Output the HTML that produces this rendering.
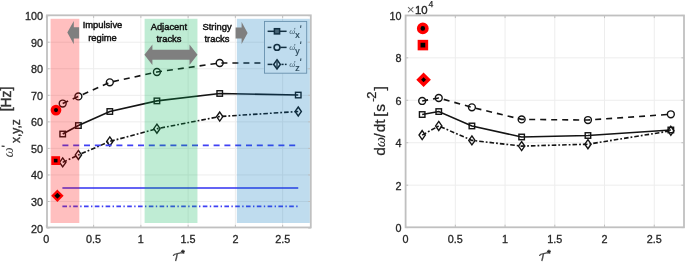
<!DOCTYPE html>
<html><head><meta charset="utf-8"><style>
html,body{margin:0;padding:0;background:#fff;}
body{width:685px;height:262px;overflow:hidden;font-family:"Liberation Sans", sans-serif;}
svg{display:block;filter:blur(0.55px);}
</style></head><body>
<svg width="685" height="262" viewBox="0 0 685 262" font-family='"Liberation Sans", sans-serif' font-size="10.8" fill="#262626">
<rect width="685" height="262" fill="#fff"/>
<line x1="93.61" y1="15.65" x2="93.61" y2="228.05" stroke="#ededed" stroke-width="1"/>
<line x1="140.87" y1="15.65" x2="140.87" y2="228.05" stroke="#ededed" stroke-width="1"/>
<line x1="188.13" y1="15.65" x2="188.13" y2="228.05" stroke="#ededed" stroke-width="1"/>
<line x1="235.39" y1="15.65" x2="235.39" y2="228.05" stroke="#ededed" stroke-width="1"/>
<line x1="282.64" y1="15.65" x2="282.64" y2="228.05" stroke="#ededed" stroke-width="1"/>
<line x1="46.35" y1="201.50" x2="311.00" y2="201.50" stroke="#ededed" stroke-width="1"/>
<line x1="46.35" y1="174.95" x2="311.00" y2="174.95" stroke="#ededed" stroke-width="1"/>
<line x1="46.35" y1="148.40" x2="311.00" y2="148.40" stroke="#ededed" stroke-width="1"/>
<line x1="46.35" y1="121.85" x2="311.00" y2="121.85" stroke="#ededed" stroke-width="1"/>
<line x1="46.35" y1="95.30" x2="311.00" y2="95.30" stroke="#ededed" stroke-width="1"/>
<line x1="46.35" y1="68.75" x2="311.00" y2="68.75" stroke="#ededed" stroke-width="1"/>
<line x1="46.35" y1="42.20" x2="311.00" y2="42.20" stroke="#ededed" stroke-width="1"/>
<polyline points="62.70,134.02 78.40,125.54 109.81,111.50 156.92,100.89 219.73,93.48 298.24,95.06" fill="none" stroke="#141414" stroke-width="1.6"/>
<rect x="59.95" y="131.27" width="5.50" height="5.50" fill="none" stroke="#141414" stroke-width="1.4"/>
<rect x="75.65" y="122.79" width="5.50" height="5.50" fill="none" stroke="#141414" stroke-width="1.4"/>
<rect x="107.06" y="108.75" width="5.50" height="5.50" fill="none" stroke="#141414" stroke-width="1.4"/>
<rect x="154.17" y="98.14" width="5.50" height="5.50" fill="none" stroke="#141414" stroke-width="1.4"/>
<rect x="216.98" y="90.73" width="5.50" height="5.50" fill="none" stroke="#141414" stroke-width="1.4"/>
<rect x="295.49" y="92.31" width="5.50" height="5.50" fill="none" stroke="#141414" stroke-width="1.4"/>
<polyline points="62.70,103.55 78.40,96.39 109.81,82.34 156.92,72.01 219.73,63.00 298.24,63.00" fill="none" stroke="#141414" stroke-width="1.6" stroke-dasharray="6,5"/>
<circle cx="62.70" cy="103.55" r="3.45" fill="none" stroke="#141414" stroke-width="1.4"/>
<circle cx="78.40" cy="96.39" r="3.45" fill="none" stroke="#141414" stroke-width="1.4"/>
<circle cx="109.81" cy="82.34" r="3.45" fill="none" stroke="#141414" stroke-width="1.4"/>
<circle cx="156.92" cy="72.01" r="3.45" fill="none" stroke="#141414" stroke-width="1.4"/>
<circle cx="219.73" cy="63.00" r="3.45" fill="none" stroke="#141414" stroke-width="1.4"/>
<circle cx="298.24" cy="63.00" r="3.45" fill="none" stroke="#141414" stroke-width="1.4"/>
<polyline points="62.70,162.38 78.40,154.96 109.81,141.44 156.92,128.72 219.73,116.53 298.24,111.50" fill="none" stroke="#141414" stroke-width="1.6" stroke-dasharray="4.6,2.0,1.8,2.0"/>
<polygon points="62.70,157.88 65.85,162.38 62.70,166.88 59.55,162.38" fill="none" stroke="#141414" stroke-width="1.4"/>
<polygon points="78.40,150.46 81.55,154.96 78.40,159.46 75.25,154.96" fill="none" stroke="#141414" stroke-width="1.4"/>
<polygon points="109.81,136.94 112.96,141.44 109.81,145.94 106.66,141.44" fill="none" stroke="#141414" stroke-width="1.4"/>
<polygon points="156.92,124.22 160.07,128.72 156.92,133.22 153.77,128.72" fill="none" stroke="#141414" stroke-width="1.4"/>
<polygon points="219.73,112.03 222.88,116.53 219.73,121.03 216.58,116.53" fill="none" stroke="#141414" stroke-width="1.4"/>
<polygon points="298.24,107.00 301.39,111.50 298.24,116.00 295.09,111.50" fill="none" stroke="#141414" stroke-width="1.4"/>
<line x1="62.40" y1="188.08" x2="298.24" y2="188.08" stroke="#3030f0" stroke-width="1.5"/>
<line x1="62.40" y1="145.42" x2="298.24" y2="145.42" stroke="#4040f4" stroke-width="1.6" stroke-dasharray="6,4.8"/>
<line x1="62.40" y1="206.37" x2="298.24" y2="206.37" stroke="#4040f4" stroke-width="1.6" stroke-dasharray="4.6,2.4,1.4,2.4"/>
<rect x="264.5" y="21.4" width="42.2" height="51.8" fill="#fff" stroke="#8a9aa8" stroke-width="0.9"/>
<line x1="267.6" y1="31.3" x2="286.6" y2="31.3" stroke="#181818" stroke-width="1.5"/>
<rect x="274.4" y="28.7" width="5.2" height="5.2" fill="#606060" stroke="#181818" stroke-width="1.5"/>
<text x="289.2" y="33.70" font-size="8.5" fill="#555" font-family='"Liberation Serif", serif' font-style="italic">ω</text>
<line x1="294.9" y1="27.90" x2="294.6" y2="29.50" stroke="#555" stroke-width="0.8"/>
<text x="295.2" y="37.50" font-size="8.8" fill="#333" stroke="#333" stroke-width="0.2">x</text>
<line x1="300.9" y1="25.30" x2="300.6" y2="27.90" stroke="#333" stroke-width="1"/>
<line x1="267.6" y1="47.4" x2="271.4" y2="47.4" stroke="#181818" stroke-width="1.5"/>
<line x1="280.2" y1="47.4" x2="286.6" y2="47.4" stroke="#181818" stroke-width="1.5"/>
<circle cx="277.0" cy="47.4" r="2.9" fill="none" stroke="#181818" stroke-width="1.6"/>
<text x="289.2" y="49.80" font-size="8.5" fill="#555" font-family='"Liberation Serif", serif' font-style="italic">ω</text>
<line x1="294.9" y1="44.00" x2="294.6" y2="45.60" stroke="#555" stroke-width="0.8"/>
<text x="295.2" y="53.60" font-size="8.8" fill="#333" stroke="#333" stroke-width="0.2">y</text>
<line x1="300.9" y1="41.40" x2="300.6" y2="44.00" stroke="#333" stroke-width="1"/>
<line x1="267.6" y1="64.4" x2="272.4" y2="64.4" stroke="#181818" stroke-width="1.5"/>
<line x1="277.0" y1="61.400000000000006" x2="277.0" y2="67.4" stroke="#181818" stroke-width="1.3"/>
<line x1="281.5" y1="64.4" x2="283.6" y2="64.4" stroke="#181818" stroke-width="1.5"/>
<line x1="284.9" y1="64.4" x2="286.6" y2="64.4" stroke="#181818" stroke-width="1.5"/>
<polygon points="277.00,59.80 280.30,64.40 277.00,69.00 273.70,64.40" fill="none" stroke="#181818" stroke-width="1.6"/>
<text x="289.2" y="66.80" font-size="8.5" fill="#555" font-family='"Liberation Serif", serif' font-style="italic">ω</text>
<line x1="294.9" y1="61.00" x2="294.6" y2="62.60" stroke="#555" stroke-width="0.8"/>
<text x="295.2" y="70.60" font-size="8.8" fill="#333" stroke="#333" stroke-width="0.2">z</text>
<line x1="300.9" y1="58.40" x2="300.6" y2="61.00" stroke="#333" stroke-width="1"/>
<rect x="50.58" y="18.8" width="28.74" height="204.20" fill="#ff0000" fill-opacity="0.25"/>
<rect x="144.61" y="18.8" width="52.85" height="204.20" fill="#00b353" fill-opacity="0.25"/>
<rect x="236.84" y="18.8" width="73.02" height="204.20" fill="#0072bd" fill-opacity="0.25"/>
<circle cx="56.00" cy="110.1" r="3.7" fill="#000" stroke="#f00" stroke-width="3.3"/>
<rect x="52.60" y="157.50" width="6.2" height="6.2" fill="#000" stroke="#f00" stroke-width="2.6"/>
<polygon points="57.40,191.20 62.00,195.80 57.40,200.40 52.80,195.80" fill="#000" stroke="#f00" stroke-width="2.3"/>
<rect x="47.00" y="15.30" width="263.80" height="212.15" fill="none" stroke="#c0c0c0" stroke-width="1.8"/>
<line x1="46.35" y1="227.45" x2="46.35" y2="224.85" stroke="#c0c0c0" stroke-width="1"/>
<line x1="46.35" y1="15.30" x2="46.35" y2="17.90" stroke="#c0c0c0" stroke-width="1"/>
<line x1="93.61" y1="227.45" x2="93.61" y2="224.85" stroke="#c0c0c0" stroke-width="1"/>
<line x1="93.61" y1="15.30" x2="93.61" y2="17.90" stroke="#c0c0c0" stroke-width="1"/>
<line x1="140.87" y1="227.45" x2="140.87" y2="224.85" stroke="#c0c0c0" stroke-width="1"/>
<line x1="140.87" y1="15.30" x2="140.87" y2="17.90" stroke="#c0c0c0" stroke-width="1"/>
<line x1="188.13" y1="227.45" x2="188.13" y2="224.85" stroke="#c0c0c0" stroke-width="1"/>
<line x1="188.13" y1="15.30" x2="188.13" y2="17.90" stroke="#c0c0c0" stroke-width="1"/>
<line x1="235.39" y1="227.45" x2="235.39" y2="224.85" stroke="#c0c0c0" stroke-width="1"/>
<line x1="235.39" y1="15.30" x2="235.39" y2="17.90" stroke="#c0c0c0" stroke-width="1"/>
<line x1="282.64" y1="227.45" x2="282.64" y2="224.85" stroke="#c0c0c0" stroke-width="1"/>
<line x1="282.64" y1="15.30" x2="282.64" y2="17.90" stroke="#c0c0c0" stroke-width="1"/>
<line x1="47.00" y1="228.05" x2="49.60" y2="228.05" stroke="#c0c0c0" stroke-width="1"/>
<line x1="310.80" y1="228.05" x2="308.20" y2="228.05" stroke="#c0c0c0" stroke-width="1"/>
<line x1="47.00" y1="201.50" x2="49.60" y2="201.50" stroke="#c0c0c0" stroke-width="1"/>
<line x1="310.80" y1="201.50" x2="308.20" y2="201.50" stroke="#c0c0c0" stroke-width="1"/>
<line x1="47.00" y1="174.95" x2="49.60" y2="174.95" stroke="#c0c0c0" stroke-width="1"/>
<line x1="310.80" y1="174.95" x2="308.20" y2="174.95" stroke="#c0c0c0" stroke-width="1"/>
<line x1="47.00" y1="148.40" x2="49.60" y2="148.40" stroke="#c0c0c0" stroke-width="1"/>
<line x1="310.80" y1="148.40" x2="308.20" y2="148.40" stroke="#c0c0c0" stroke-width="1"/>
<line x1="47.00" y1="121.85" x2="49.60" y2="121.85" stroke="#c0c0c0" stroke-width="1"/>
<line x1="310.80" y1="121.85" x2="308.20" y2="121.85" stroke="#c0c0c0" stroke-width="1"/>
<line x1="47.00" y1="95.30" x2="49.60" y2="95.30" stroke="#c0c0c0" stroke-width="1"/>
<line x1="310.80" y1="95.30" x2="308.20" y2="95.30" stroke="#c0c0c0" stroke-width="1"/>
<line x1="47.00" y1="68.75" x2="49.60" y2="68.75" stroke="#c0c0c0" stroke-width="1"/>
<line x1="310.80" y1="68.75" x2="308.20" y2="68.75" stroke="#c0c0c0" stroke-width="1"/>
<line x1="47.00" y1="42.20" x2="49.60" y2="42.20" stroke="#c0c0c0" stroke-width="1"/>
<line x1="310.80" y1="42.20" x2="308.20" y2="42.20" stroke="#c0c0c0" stroke-width="1"/>
<line x1="47.00" y1="15.65" x2="49.60" y2="15.65" stroke="#c0c0c0" stroke-width="1"/>
<line x1="310.80" y1="15.65" x2="308.20" y2="15.65" stroke="#c0c0c0" stroke-width="1"/>
<text x="46.35" y="242.9" text-anchor="middle" stroke="#262626" stroke-width="0.3">0</text>
<text x="93.61" y="242.9" text-anchor="middle" stroke="#262626" stroke-width="0.3">0.5</text>
<text x="140.87" y="242.9" text-anchor="middle" stroke="#262626" stroke-width="0.3">1</text>
<text x="188.13" y="242.9" text-anchor="middle" stroke="#262626" stroke-width="0.3">1.5</text>
<text x="235.39" y="242.9" text-anchor="middle" stroke="#262626" stroke-width="0.3">2</text>
<text x="282.64" y="242.9" text-anchor="middle" stroke="#262626" stroke-width="0.3">2.5</text>
<text x="43.00" y="232.55" text-anchor="end" stroke="#262626" stroke-width="0.3">20</text>
<text x="43.00" y="206.00" text-anchor="end" stroke="#262626" stroke-width="0.3">30</text>
<text x="43.00" y="179.45" text-anchor="end" stroke="#262626" stroke-width="0.3">40</text>
<text x="43.00" y="152.90" text-anchor="end" stroke="#262626" stroke-width="0.3">50</text>
<text x="43.00" y="126.35" text-anchor="end" stroke="#262626" stroke-width="0.3">60</text>
<text x="43.00" y="99.80" text-anchor="end" stroke="#262626" stroke-width="0.3">70</text>
<text x="43.00" y="73.25" text-anchor="end" stroke="#262626" stroke-width="0.3">80</text>
<text x="43.00" y="46.70" text-anchor="end" stroke="#262626" stroke-width="0.3">90</text>
<text x="43.00" y="20.15" text-anchor="end" stroke="#262626" stroke-width="0.3">100</text>
<polygon points="67.3,32.5 73.8,21.0 73.8,27.2 79.1,27.2 79.1,38.4 73.8,38.4 73.8,44.2" fill="#7f7f7f"/>
<polygon points="144.4,54.7 152.4,44.5 152.4,49.7 189.5,49.7 189.5,44.5 197.5,54.7 189.5,64.9 189.5,59.7 152.4,59.7 152.4,64.9" fill="#7f7f7f"/>
<polygon points="247.6,33.0 241.6,22.0 241.6,27.5 235.6,27.5 235.6,38.5 241.6,38.5 241.6,44.0" fill="#7f7f7f"/>
<g font-size="9.4" fill="#111" stroke="#111" stroke-width="0.45" text-anchor="middle">
<text x="102.5" y="28.4">Impulsive</text><text x="102.5" y="40.9">regime</text>
<text x="168.9" y="29.8">Adjacent</text><text x="169.0" y="41.5">tracks</text>
<text x="217.0" y="30.1">Stringy</text><text x="217.0" y="41.5">tracks</text>
</g>
<g transform="rotate(-90)" fill="#333">
<text x="-157.6" y="12.8" font-size="14.5" font-family='"Liberation Serif", serif' font-style="italic" fill="#444">ω</text>
<text x="-143.0" y="20.3" font-size="12" stroke="#333" stroke-width="0.35">x,y,z</text>
<text x="-111.3" y="11.4" font-size="13.8" stroke="#333" stroke-width="0.45">[Hz]</text>
</g>
<line x1="1.6" y1="146.2" x2="4.6" y2="146.4" stroke="#333" stroke-width="1.2"/>
<path d="M173.50,255.40 Q174.40,254.00 176.40,253.90 L180.60,252.80" fill="none" stroke="#505050" stroke-width="1.35" stroke-linecap="round"/>
<path d="M177.20,253.80 Q176.60,257.70 175.70,260.40" fill="none" stroke="#505050" stroke-width="1.45" stroke-linecap="round"/>
<text x="180.90" y="255.80" font-size="9.5" font-weight="bold" fill="#222" stroke="#222" stroke-width="0.4">*</text>
<line x1="455.33" y1="15.40" x2="455.33" y2="227.60" stroke="#ededed" stroke-width="1"/>
<line x1="505.06" y1="15.40" x2="505.06" y2="227.60" stroke="#ededed" stroke-width="1"/>
<line x1="554.80" y1="15.40" x2="554.80" y2="227.60" stroke="#ededed" stroke-width="1"/>
<line x1="604.53" y1="15.40" x2="604.53" y2="227.60" stroke="#ededed" stroke-width="1"/>
<line x1="654.26" y1="15.40" x2="654.26" y2="227.60" stroke="#ededed" stroke-width="1"/>
<line x1="405.60" y1="185.16" x2="684.10" y2="185.16" stroke="#ededed" stroke-width="1"/>
<line x1="405.60" y1="142.72" x2="684.10" y2="142.72" stroke="#ededed" stroke-width="1"/>
<line x1="405.60" y1="100.28" x2="684.10" y2="100.28" stroke="#ededed" stroke-width="1"/>
<line x1="405.60" y1="57.84" x2="684.10" y2="57.84" stroke="#ededed" stroke-width="1"/>
<polyline points="422.18,114.52 438.75,111.55 471.91,125.96 521.64,136.99 587.95,135.50 670.84,129.99" fill="none" stroke="#141414" stroke-width="1.6"/>
<rect x="419.43" y="111.77" width="5.50" height="5.50" fill="none" stroke="#141414" stroke-width="1.4"/>
<rect x="436.00" y="108.80" width="5.50" height="5.50" fill="none" stroke="#141414" stroke-width="1.4"/>
<rect x="469.16" y="123.21" width="5.50" height="5.50" fill="none" stroke="#141414" stroke-width="1.4"/>
<rect x="518.89" y="134.24" width="5.50" height="5.50" fill="none" stroke="#141414" stroke-width="1.4"/>
<rect x="585.20" y="132.75" width="5.50" height="5.50" fill="none" stroke="#141414" stroke-width="1.4"/>
<rect x="668.09" y="127.24" width="5.50" height="5.50" fill="none" stroke="#141414" stroke-width="1.4"/>
<polyline points="422.18,100.95 438.75,97.98 471.91,107.31 521.64,119.39 587.95,120.03 670.84,114.30" fill="none" stroke="#141414" stroke-width="1.6" stroke-dasharray="6,5"/>
<circle cx="422.18" cy="100.95" r="3.45" fill="none" stroke="#141414" stroke-width="1.4"/>
<circle cx="438.75" cy="97.98" r="3.45" fill="none" stroke="#141414" stroke-width="1.4"/>
<circle cx="471.91" cy="107.31" r="3.45" fill="none" stroke="#141414" stroke-width="1.4"/>
<circle cx="521.64" cy="119.39" r="3.45" fill="none" stroke="#141414" stroke-width="1.4"/>
<circle cx="587.95" cy="120.03" r="3.45" fill="none" stroke="#141414" stroke-width="1.4"/>
<circle cx="670.84" cy="114.30" r="3.45" fill="none" stroke="#141414" stroke-width="1.4"/>
<polyline points="422.18,135.08 438.75,125.96 471.91,140.38 521.64,146.10 587.95,144.20 670.84,130.84" fill="none" stroke="#141414" stroke-width="1.6" stroke-dasharray="4.6,2.0,1.8,2.0"/>
<polygon points="422.18,130.58 425.33,135.08 422.18,139.58 419.03,135.08" fill="none" stroke="#141414" stroke-width="1.4"/>
<polygon points="438.75,121.46 441.90,125.96 438.75,130.46 435.60,125.96" fill="none" stroke="#141414" stroke-width="1.4"/>
<polygon points="471.91,135.88 475.06,140.38 471.91,144.88 468.76,140.38" fill="none" stroke="#141414" stroke-width="1.4"/>
<polygon points="521.64,141.60 524.79,146.10 521.64,150.60 518.49,146.10" fill="none" stroke="#141414" stroke-width="1.4"/>
<polygon points="587.95,139.70 591.10,144.20 587.95,148.70 584.80,144.20" fill="none" stroke="#141414" stroke-width="1.4"/>
<polygon points="670.84,126.34 673.99,130.84 670.84,135.34 667.69,130.84" fill="none" stroke="#141414" stroke-width="1.4"/>
<circle cx="422.80" cy="28.4" r="4.1" fill="#000" stroke="#f00" stroke-width="3.6"/>
<rect x="419.10" y="41.30" width="7.6" height="7.6" fill="#000" stroke="#f00" stroke-width="2.9"/>
<polygon points="423.60,74.90 428.50,79.80 423.60,84.70 418.70,79.80" fill="#000" stroke="#f00" stroke-width="3.4"/>
<rect x="405.60" y="15.50" width="278.40" height="211.80" fill="none" stroke="#c0c0c0" stroke-width="1.8"/>
<line x1="405.60" y1="227.30" x2="405.60" y2="224.70" stroke="#c0c0c0" stroke-width="1"/>
<line x1="405.60" y1="15.50" x2="405.60" y2="18.10" stroke="#c0c0c0" stroke-width="1"/>
<line x1="455.33" y1="227.30" x2="455.33" y2="224.70" stroke="#c0c0c0" stroke-width="1"/>
<line x1="455.33" y1="15.50" x2="455.33" y2="18.10" stroke="#c0c0c0" stroke-width="1"/>
<line x1="505.06" y1="227.30" x2="505.06" y2="224.70" stroke="#c0c0c0" stroke-width="1"/>
<line x1="505.06" y1="15.50" x2="505.06" y2="18.10" stroke="#c0c0c0" stroke-width="1"/>
<line x1="554.80" y1="227.30" x2="554.80" y2="224.70" stroke="#c0c0c0" stroke-width="1"/>
<line x1="554.80" y1="15.50" x2="554.80" y2="18.10" stroke="#c0c0c0" stroke-width="1"/>
<line x1="604.53" y1="227.30" x2="604.53" y2="224.70" stroke="#c0c0c0" stroke-width="1"/>
<line x1="604.53" y1="15.50" x2="604.53" y2="18.10" stroke="#c0c0c0" stroke-width="1"/>
<line x1="654.26" y1="227.30" x2="654.26" y2="224.70" stroke="#c0c0c0" stroke-width="1"/>
<line x1="654.26" y1="15.50" x2="654.26" y2="18.10" stroke="#c0c0c0" stroke-width="1"/>
<line x1="405.60" y1="227.60" x2="408.20" y2="227.60" stroke="#c0c0c0" stroke-width="1"/>
<line x1="684.00" y1="227.60" x2="681.40" y2="227.60" stroke="#c0c0c0" stroke-width="1"/>
<line x1="405.60" y1="185.16" x2="408.20" y2="185.16" stroke="#c0c0c0" stroke-width="1"/>
<line x1="684.00" y1="185.16" x2="681.40" y2="185.16" stroke="#c0c0c0" stroke-width="1"/>
<line x1="405.60" y1="142.72" x2="408.20" y2="142.72" stroke="#c0c0c0" stroke-width="1"/>
<line x1="684.00" y1="142.72" x2="681.40" y2="142.72" stroke="#c0c0c0" stroke-width="1"/>
<line x1="405.60" y1="100.28" x2="408.20" y2="100.28" stroke="#c0c0c0" stroke-width="1"/>
<line x1="684.00" y1="100.28" x2="681.40" y2="100.28" stroke="#c0c0c0" stroke-width="1"/>
<line x1="405.60" y1="57.84" x2="408.20" y2="57.84" stroke="#c0c0c0" stroke-width="1"/>
<line x1="684.00" y1="57.84" x2="681.40" y2="57.84" stroke="#c0c0c0" stroke-width="1"/>
<line x1="405.60" y1="15.40" x2="408.20" y2="15.40" stroke="#c0c0c0" stroke-width="1"/>
<line x1="684.00" y1="15.40" x2="681.40" y2="15.40" stroke="#c0c0c0" stroke-width="1"/>
<text x="405.60" y="242.9" text-anchor="middle" stroke="#262626" stroke-width="0.3">0</text>
<text x="455.33" y="242.9" text-anchor="middle" stroke="#262626" stroke-width="0.3">0.5</text>
<text x="505.06" y="242.9" text-anchor="middle" stroke="#262626" stroke-width="0.3">1</text>
<text x="554.80" y="242.9" text-anchor="middle" stroke="#262626" stroke-width="0.3">1.5</text>
<text x="604.53" y="242.9" text-anchor="middle" stroke="#262626" stroke-width="0.3">2</text>
<text x="654.26" y="242.9" text-anchor="middle" stroke="#262626" stroke-width="0.3">2.5</text>
<text x="401.60" y="232.10" text-anchor="end" stroke="#262626" stroke-width="0.3">0</text>
<text x="401.60" y="189.66" text-anchor="end" stroke="#262626" stroke-width="0.3">2</text>
<text x="401.60" y="147.22" text-anchor="end" stroke="#262626" stroke-width="0.3">4</text>
<text x="401.60" y="104.78" text-anchor="end" stroke="#262626" stroke-width="0.3">6</text>
<text x="401.60" y="62.34" text-anchor="end" stroke="#262626" stroke-width="0.3">8</text>
<text x="401.60" y="19.90" text-anchor="end" stroke="#262626" stroke-width="0.3">10</text>
<text x="406.8" y="13.6" font-size="13.5" fill="#666">×</text><text x="414.9" y="13.6" font-size="11.4" stroke="#262626" stroke-width="0.35">10</text><text x="428.4" y="7.1" font-size="8.6" stroke="#262626" stroke-width="0.25">4</text>
<g transform="rotate(-90)" fill="#262626" stroke="#262626" stroke-width="0.25">
<text x="-155.8" y="385.0" font-size="15.5">d</text>
<text x="-147.2" y="385.0" font-size="14.5" font-family='"Liberation Serif", serif' font-style="italic" stroke-width="0.1">ω</text>
<text x="-137.6" y="385.0" font-size="15.5">/</text>
<text x="-132.3" y="385.0" font-size="15.5">dt</text>
<text x="-116.8" y="385.0" font-size="15.5">[</text>
<text x="-111.7" y="385.0" font-size="15.5">s</text>
<text x="-101.8" y="376.0" font-size="11">-</text>
<text x="-98.7" y="376.0" font-size="13">2</text>
<text x="-90.4" y="385.0" font-size="15.5">]</text>
</g>
<path d="M539.70,255.40 Q540.60,254.00 542.60,253.90 L546.80,252.80" fill="none" stroke="#505050" stroke-width="1.35" stroke-linecap="round"/>
<path d="M543.40,253.80 Q542.80,257.70 541.90,260.40" fill="none" stroke="#505050" stroke-width="1.45" stroke-linecap="round"/>
<text x="547.10" y="255.80" font-size="9.5" font-weight="bold" fill="#222" stroke="#222" stroke-width="0.4">*</text>
</svg>
</body></html>
